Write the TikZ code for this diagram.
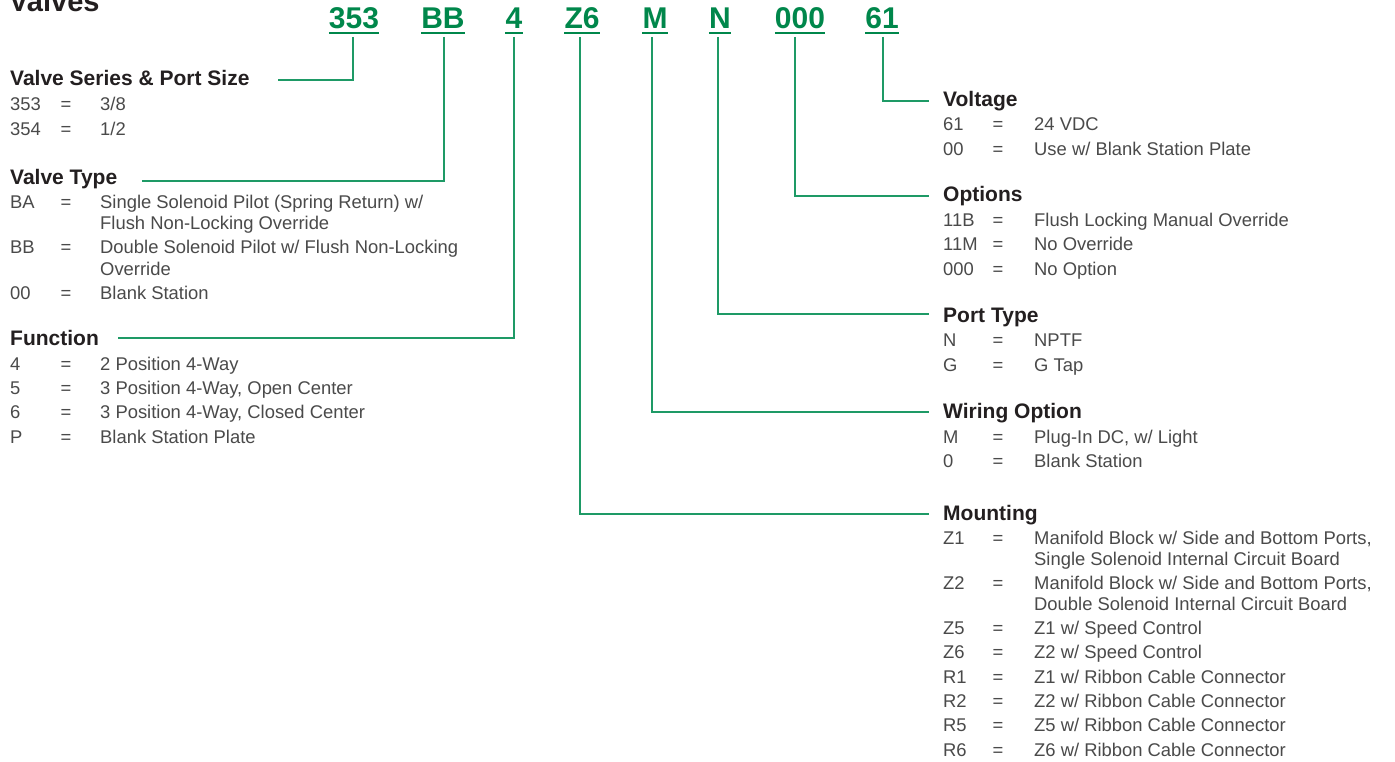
\documentclass[tikz,border=0pt]{standalone}
\usepackage{fontspec}
\setmainfont{Liberation Sans}
\definecolor{bodygray}{HTML}{4A4A4A}
\definecolor{headblack}{HTML}{231F20}
\definecolor{codegreen}{HTML}{00874B}
\definecolor{linegreen}{HTML}{1E9A66}
\tikzset{
  bodytxt/.style={font=\fontsize{18.4}{20}\selectfont, text=bodygray, inner sep=0pt},
  hdr/.style={font=\fontsize{21}{24}\selectfont\bfseries, text=headblack, inner sep=0pt, anchor=base west},
  codebox/.style={font=\fontsize{30}{34}\selectfont\bfseries, text=codegreen, inner sep=0pt, anchor=base},
  conn/.style={draw=linegreen, line width=1.4pt},
  uline/.style={draw=codegreen, line width=2pt}
}
\newcommand\lrow[4]{%
  \node[bodytxt,anchor=base west] (#1c) at (10,#2) {#3};
  \node[bodytxt,anchor=base] (#1e) at (66,#2) {=};
  \node[bodytxt,anchor=base west] (#1d) at (100,#2) {#4};}
\newcommand\lcont[3]{\node[bodytxt,anchor=base west] (#1d) at (100,#2) {#3};}
\newcommand\rrow[4]{%
  \node[bodytxt,anchor=base west] (#1c) at (943,#2) {#3};
  \node[bodytxt,anchor=base] (#1e) at (998,#2) {=};
  \node[bodytxt,anchor=base west] (#1d) at (1034,#2) {#4};}
\newcommand\rcont[3]{\node[bodytxt,anchor=base west] (#1d) at (1034,#2) {#3};}
\begin{document}
\begin{tikzpicture}[x=1pt,y=-1pt]
\useasboundingbox[fill=white] (0,0) rectangle (1395,762);
% title (cut off at top)
\node[font=\fontsize{29}{32}\selectfont\bfseries, text=headblack, inner sep=0pt, anchor=base west] (title) at (9,12) {Valves};
% codes
\foreach \nm/\xx/\tx in {c1/354/353, c2/443/BB, c3/514/4, c4/582/Z6, c5/655/M, c6/720/N, c7/800/000, c8/882/61}{
  \node[codebox] (\nm) at (\xx,29) {\tx};
  \draw[uline] ([yshift=-4pt]\nm.base west) -- ([yshift=-4pt]\nm.base east);
}
% left headings
\node[hdr] (h1) at (10,86) {Valve Series \& Port Size};
\lrow{a1}{111}{353}{3/8}
\lrow{a2}{136}{354}{1/2}
\node[hdr] (h2) at (10,185) {Valve Type};
\lrow{b1}{209}{BA}{Single Solenoid Pilot (Spring Return) w/}
\lcont{b1x}{230}{Flush Non-Locking Override}
\lrow{b2}{254}{BB}{Double Solenoid Pilot w/ Flush Non-Locking}
\lcont{b2x}{275}{Override}
\lrow{b3}{299}{00}{Blank Station}
\node[hdr] (h3) at (10,345) {Function};
\lrow{f1}{370}{4}{2 Position 4-Way}
\lrow{f2}{394}{5}{3 Position 4-Way, Open Center}
\lrow{f3}{418}{6}{3 Position 4-Way, Closed Center}
\lrow{f4}{443}{P}{Blank Station Plate}
% right headings
\node[hdr] (h8) at (943,107) {Voltage};
\rrow{v1}{131}{61}{24 VDC}
\rrow{v2}{156}{00}{Use w/ Blank Station Plate}
\node[hdr] (h7) at (943,202) {Options};
\rrow{o1}{227}{11B}{Flush Locking Manual Override}
\rrow{o2}{251}{11M}{No Override}
\rrow{o3}{275}{000}{No Option}
\node[hdr] (h6) at (943,322) {Port Type};
\rrow{p1}{346}{N}{NPTF}
\rrow{p2}{371}{G}{G Tap}
\node[hdr] (h5) at (943,418) {Wiring Option};
\rrow{w1}{443}{M}{Plug-In DC, w/ Light}
\rrow{w2}{467}{0}{Blank Station}
\node[hdr] (h4) at (943,520) {Mounting};
\rrow{m1}{544}{Z1}{Manifold Block w/ Side and Bottom Ports,}
\rcont{m1x}{565}{Single Solenoid Internal Circuit Board}
\rrow{m2}{589}{Z2}{Manifold Block w/ Side and Bottom Ports,}
\rcont{m2x}{610}{Double Solenoid Internal Circuit Board}
\rrow{m3}{634}{Z5}{Z1 w/ Speed Control}
\rrow{m4}{658}{Z6}{Z2 w/ Speed Control}
\rrow{m5}{683}{R1}{Z1 w/ Ribbon Cable Connector}
\rrow{m6}{707}{R2}{Z2 w/ Ribbon Cable Connector}
\rrow{m7}{731}{R5}{Z5 w/ Ribbon Cable Connector}
\rrow{m8}{756}{R6}{Z6 w/ Ribbon Cable Connector}
% connector ends
\coordinate (e1) at (278,80);
\coordinate (e2) at (142,181);
\coordinate (e3) at (118,338);
\coordinate (e4) at (929,514);
\coordinate (e5) at (929,412);
\coordinate (e6) at (929,314);
\coordinate (e7) at (929,196);
\coordinate (e8) at (929,101);
% connectors
\draw[conn] ([xshift=-1pt,yshift=-8pt]c1.base) |- (e1);
\draw[conn] ([xshift=1pt,yshift=-8pt]c2.base) |- (e2);
\draw[conn] ([yshift=-8pt]c3.base) |- (e3);
\draw[conn] ([xshift=-2pt,yshift=-8pt]c4.base) |- (e4);
\draw[conn] ([xshift=-3pt,yshift=-8pt]c5.base) |- (e5);
\draw[conn] ([xshift=-2pt,yshift=-8pt]c6.base) |- (e6);
\draw[conn] ([xshift=-5pt,yshift=-8pt]c7.base) |- (e7);
\draw[conn] ([xshift=1pt,yshift=-8pt]c8.base) |- (e8);
\end{tikzpicture}
\end{document}
